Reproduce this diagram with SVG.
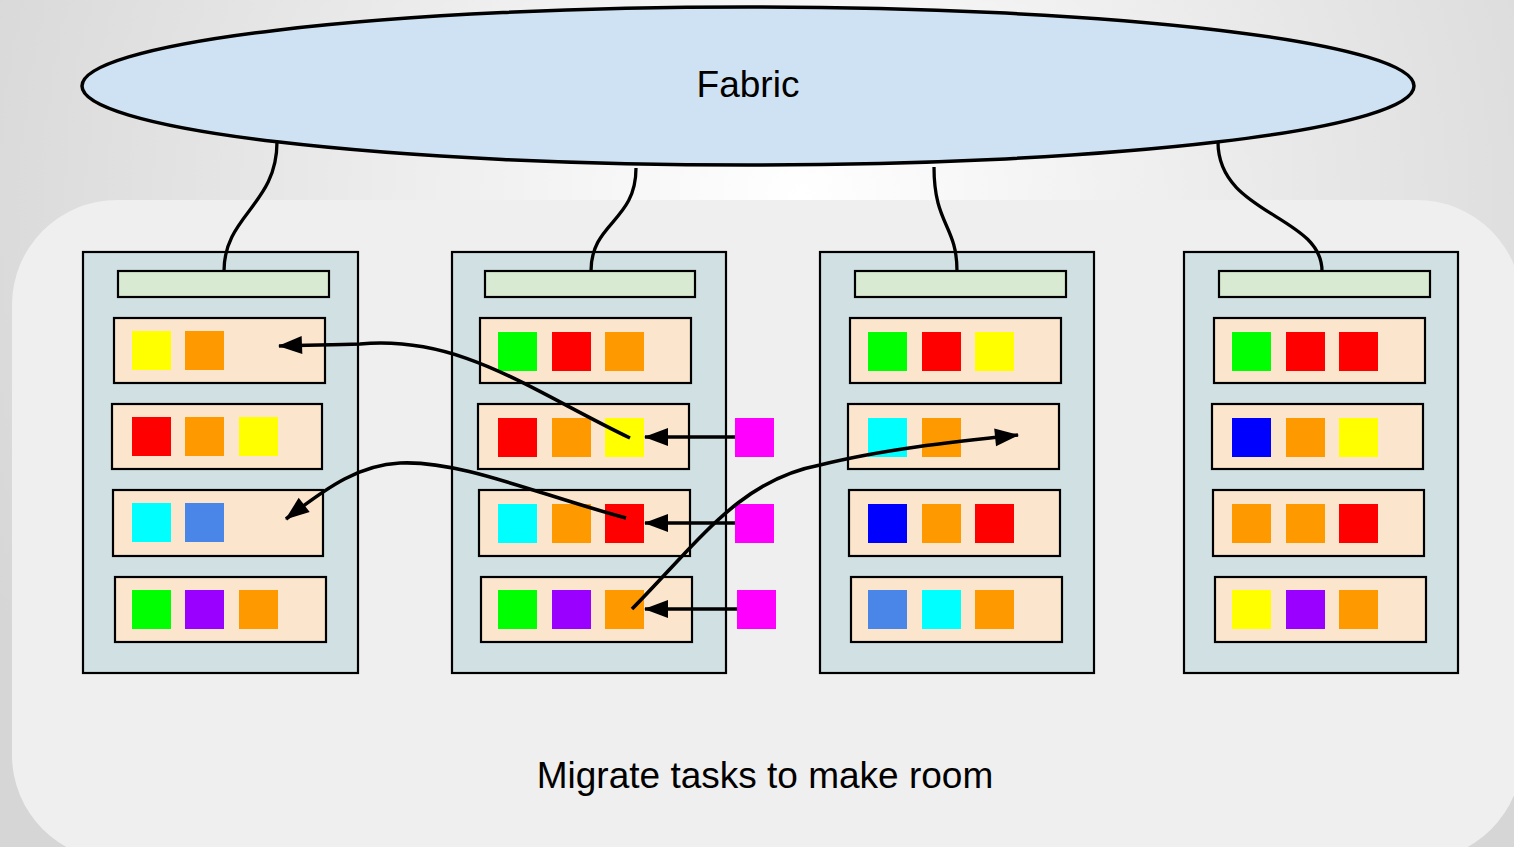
<svg xmlns="http://www.w3.org/2000/svg" width="1514" height="847" viewBox="0 0 1514 847">
<style>
.rack{fill:#d0e0e3;stroke:#000;stroke-width:2.2}
.hdr{fill:#d9ead3;stroke:#000;stroke-width:2.2}
.row{fill:#fce5cd;stroke:#000;stroke-width:2.2}
.wire{fill:none;stroke:#000;stroke-width:3.3}
.arr{fill:none;stroke:#000;stroke-width:3.6;marker-end:url(#ah)}
.lbl{font-family:"Liberation Sans",Arial,sans-serif;font-size:37px;fill:#000;text-anchor:middle}
.G{fill:#00ff00}.R{fill:#ff0000}.O{fill:#ff9900}.Y{fill:#ffff00}.C{fill:#00ffff}.B{fill:#0000ff}.L{fill:#4a86e8}.P{fill:#9900ff}.M{fill:#ff00ff}
</style>
<defs>
<radialGradient id="bg" gradientUnits="userSpaceOnUse" cx="800" cy="200" r="900">
<stop offset="0" stop-color="#ffffff"/>
<stop offset="1" stop-color="#d6d6d6"/>
</radialGradient>
<marker id="ah" markerUnits="userSpaceOnUse" markerWidth="24" markerHeight="20" refX="23" refY="9" orient="auto" overflow="visible">
<path d="M0,0 L24,9 L0,18 Z" fill="#000"/>
</marker>
</defs>
<rect x="0" y="0" width="1514" height="847" fill="url(#bg)"/>
<rect x="12" y="200" width="1510" height="660" rx="105" ry="105" fill="#efefef"/>

<g id="fabric">
<ellipse cx="748" cy="86" rx="666" ry="79" fill="#cfe2f3" stroke="#000" stroke-width="3.5"/>
<text class="lbl" x="748" y="97">Fabric</text>
</g>

<g id="server1">
<rect class="rack" x="83" y="252" width="275" height="421"/>
<rect class="hdr" x="118" y="271" width="211" height="26"/>
<rect class="row" x="114" y="318" width="211" height="65"/>
<rect class="row" x="112" y="404" width="210" height="65"/>
<rect class="row" x="113" y="490" width="210" height="66"/>
<rect class="row" x="115" y="577" width="211" height="65"/>
<rect class="Y" x="132" y="331" width="39" height="39"/><rect class="O" x="185" y="331" width="39" height="39"/>
<rect class="R" x="132" y="417" width="39" height="39"/><rect class="O" x="185" y="417" width="39" height="39"/><rect class="Y" x="239" y="417" width="39" height="39"/>
<rect class="C" x="132" y="503" width="39" height="39"/><rect class="L" x="185" y="503" width="39" height="39"/>
<rect class="G" x="132" y="590" width="39" height="39"/><rect class="P" x="185" y="590" width="39" height="39"/><rect class="O" x="239" y="590" width="39" height="39"/>
</g>

<g id="server2">
<rect class="rack" x="452" y="252" width="274" height="421"/>
<rect class="hdr" x="485" y="271" width="210" height="26"/>
<rect class="row" x="480" y="318" width="211" height="65"/>
<rect class="row" x="478" y="404" width="211" height="65"/>
<rect class="row" x="479" y="490" width="211" height="66"/>
<rect class="row" x="481" y="577" width="211" height="65"/>
<rect class="G" x="498" y="332" width="39" height="39"/><rect class="R" x="552" y="332" width="39" height="39"/><rect class="O" x="605" y="332" width="39" height="39"/>
<rect class="R" x="498" y="418" width="39" height="39"/><rect class="O" x="552" y="418" width="39" height="39"/><rect class="Y" x="605" y="418" width="39" height="39"/>
<rect class="C" x="498" y="504" width="39" height="39"/><rect class="O" x="552" y="504" width="39" height="39"/><rect class="R" x="605" y="504" width="39" height="39"/>
<rect class="G" x="498" y="590" width="39" height="39"/><rect class="P" x="552" y="590" width="39" height="39"/><rect class="O" x="605" y="590" width="39" height="39"/>
</g>

<g id="server3">
<rect class="rack" x="820" y="252" width="274" height="421"/>
<rect class="hdr" x="855" y="271" width="211" height="26"/>
<rect class="row" x="850" y="318" width="211" height="65"/>
<rect class="row" x="848" y="404" width="211" height="65"/>
<rect class="row" x="849" y="490" width="211" height="66"/>
<rect class="row" x="851" y="577" width="211" height="65"/>
<rect class="G" x="868" y="332" width="39" height="39"/><rect class="R" x="922" y="332" width="39" height="39"/><rect class="Y" x="975" y="332" width="39" height="39"/>
<rect class="C" x="868" y="418" width="39" height="39"/><rect class="O" x="922" y="418" width="39" height="39"/>
<rect class="B" x="868" y="504" width="39" height="39"/><rect class="O" x="922" y="504" width="39" height="39"/><rect class="R" x="975" y="504" width="39" height="39"/>
<rect class="L" x="868" y="590" width="39" height="39"/><rect class="C" x="922" y="590" width="39" height="39"/><rect class="O" x="975" y="590" width="39" height="39"/>
</g>

<g id="server4">
<rect class="rack" x="1184" y="252" width="274" height="421"/>
<rect class="hdr" x="1219" y="271" width="211" height="26"/>
<rect class="row" x="1214" y="318" width="211" height="65"/>
<rect class="row" x="1212" y="404" width="211" height="65"/>
<rect class="row" x="1213" y="490" width="211" height="66"/>
<rect class="row" x="1215" y="577" width="211" height="65"/>
<rect class="G" x="1232" y="332" width="39" height="39"/><rect class="R" x="1286" y="332" width="39" height="39"/><rect class="R" x="1339" y="332" width="39" height="39"/>
<rect class="B" x="1232" y="418" width="39" height="39"/><rect class="O" x="1286" y="418" width="39" height="39"/><rect class="Y" x="1339" y="418" width="39" height="39"/>
<rect class="O" x="1232" y="504" width="39" height="39"/><rect class="O" x="1286" y="504" width="39" height="39"/><rect class="R" x="1339" y="504" width="39" height="39"/>
<rect class="Y" x="1232" y="590" width="39" height="39"/><rect class="P" x="1286" y="590" width="39" height="39"/><rect class="O" x="1339" y="590" width="39" height="39"/>
</g>

<g id="new-tasks">
<rect class="M" x="735" y="418" width="39" height="39"/>
<rect class="M" x="735" y="504" width="39" height="39"/>
<rect class="M" x="737" y="590" width="39" height="39"/>
</g>

<g id="connectors">
<path class="wire" d="M277,142 C277,205 224,215 224,271"/>
<path class="wire" d="M636,168 C636,222 591,222 591,271"/>
<path class="wire" d="M934,167 C934,225 957,225 957,271"/>
<path class="wire" d="M1218,142 C1218,215 1322,215 1322,271"/>
<path class="arr" d="M735,437 L645,437"/>
<path class="arr" d="M735,523 L645,523"/>
<path class="arr" d="M737,609 L645,609"/>
<path class="arr" d="M630,438 C530,390 460,335 360,344 C330,345 305,345 279,346"/>
<path class="arr" d="M626,518 C540,495 460,460 400,463 C360,465 330,485 286,519"/>
<path class="arr" d="M632,609 C700,540 740,480 820,465 C880,450 950,442 1018,435"/>
</g>

<text class="lbl" x="765" y="788">Migrate tasks to make room</text>
</svg>
